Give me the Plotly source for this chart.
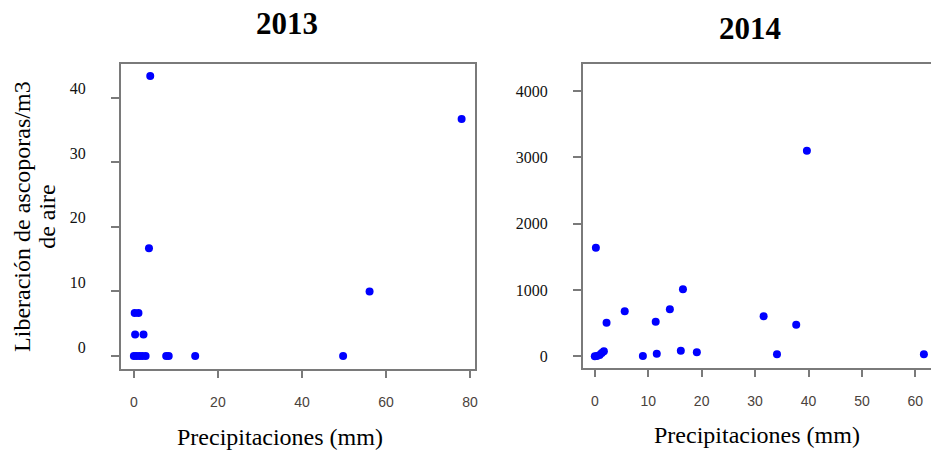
import plotly.graph_objects as go

W, H = 934, 451

# 2013 data
x2013 = [0, 0.6, 1.3, 2.0, 2.8, 7.7, 8.3, 14.6, 49.8, 0.3, 2.3, 0.2, 1.1, 3.6, 56.1, 78.0, 3.9]
y2013 = [0, 0, 0, 0, 0, 0, 0, 0, 0, 3.33, 3.33, 6.67, 6.67, 16.67, 10, 36.67, 43.33]

# 2014 data
x2014 = [0, 0.4, 0.9, 1.3, 1.7, 0.2, 2.2, 5.6, 9.0, 11.4, 11.6, 14.05, 16.1, 16.5, 19.1, 31.6, 34.1, 37.7, 39.7, 61.6]
y2014 = [0, 5, 20, 50, 75, 1638, 505, 680, 5, 520, 40, 709, 85, 1010, 60, 603, 30, 477, 3101, 30]

xticks2013 = [0, 20, 40, 60, 80]
yticks2013 = [0, 10, 20, 30, 40]
xticks2014 = [0, 10, 20, 30, 40, 50, 60]
yticks2014 = [0, 1000, 2000, 3000, 4000]

titles = ["2013", "2014"]
xlabel = "Precipitaciones (mm)"
ylabel1 = "Liberación de ascoporas/m3"
ylabel2 = "de aire"

SERIF = "Liberation Serif"
SANS = "Liberation Sans"
FRAME = "#7a7a7a"
TICKLBL = "#4a423c"

marker = dict(color="#0000ff", size=8, line=dict(width=0))

fig = go.Figure()
fig.add_trace(go.Scatter(x=x2013, y=y2013, mode="markers", marker=marker,
                         xaxis="x", yaxis="y", showlegend=False))
fig.add_trace(go.Scatter(x=x2014, y=y2014, mode="markers", marker=marker,
                         xaxis="x2", yaxis="y2", showlegend=False))

def px_x(p):
    return p / W

def px_y(p):
    return (H - p) / H

xcommon = dict(showgrid=False, zeroline=False, showline=True, linecolor=FRAME, linewidth=1.5,
               ticks="outside", ticklen=7, tickcolor=FRAME, tickwidth=1.5,
               tickfont=dict(family=SANS, size=14, color=TICKLBL), ticklabelstandoff=12)
ycommon = dict(showgrid=False, zeroline=False, showline=True, linecolor=FRAME, linewidth=1.5,
               ticks="outside", ticklen=8, tickcolor=FRAME, tickwidth=1.5,
               tickfont=dict(family=SERIF, size=16, color="#111111"), ticklabelstandoff=22)

fig.update_layout(
    width=W, height=H,
    margin=dict(l=0, r=0, t=0, b=0),
    paper_bgcolor="white", plot_bgcolor="white",
    xaxis=dict(xcommon, domain=[px_x(121), px_x(477)], range=[-3.15, 81.3],
               tickvals=xticks2013, mirror=True, anchor="y"),
    yaxis=dict(ycommon, domain=[px_y(369), px_y(64)], range=[-2.0, 45.2],
               tickvals=yticks2013, mirror=True, anchor="x", ticklabelshift=-9),
    xaxis2=dict(xcommon, domain=[px_x(584.5), 1.0], range=[-2.28, 62.93],
                tickvals=xticks2014, mirror=True, anchor="y2"),
    yaxis2=dict(ycommon, domain=[px_y(368), px_y(64)], range=[-176, 4409],
                tickvals=yticks2014, mirror=False, anchor="x2"),
)

ann = []
ann.append(dict(text="<b>" + titles[0] + "</b>", x=px_x(288), y=px_y(23), xref="paper", yref="paper",
                showarrow=False, font=dict(family=SERIF, size=31, color="black"),
                xanchor="center", yanchor="middle"))
ann.append(dict(text="<b>" + titles[1] + "</b>", x=px_x(752), y=px_y(28.5), xref="paper", yref="paper",
                showarrow=False, font=dict(family=SERIF, size=31, color="black"),
                xanchor="center", yanchor="middle"))
ann.append(dict(text=xlabel, x=px_x(281), y=px_y(437), xref="paper", yref="paper",
                showarrow=False, font=dict(family=SERIF, size=24, color="black"),
                xanchor="center", yanchor="middle"))
ann.append(dict(text=xlabel, x=px_x(759), y=px_y(435), xref="paper", yref="paper",
                showarrow=False, font=dict(family=SERIF, size=24, color="black"),
                xanchor="center", yanchor="middle"))
ann.append(dict(text=ylabel1, x=px_x(22), y=px_y(216), xref="paper", yref="paper",
                showarrow=False, textangle=-90, font=dict(family=SERIF, size=24, color="black"),
                xanchor="center", yanchor="middle"))
ann.append(dict(text=ylabel2, x=px_x(47), y=px_y(216), xref="paper", yref="paper",
                showarrow=False, textangle=-90, font=dict(family=SERIF, size=24, color="black"),
                xanchor="center", yanchor="middle"))
fig.update_layout(annotations=ann)

fig.write_html("out.html", config={"displayModeBar": False},
               post_script="document.body.style.margin='0';document.body.style.overflow='hidden';")
